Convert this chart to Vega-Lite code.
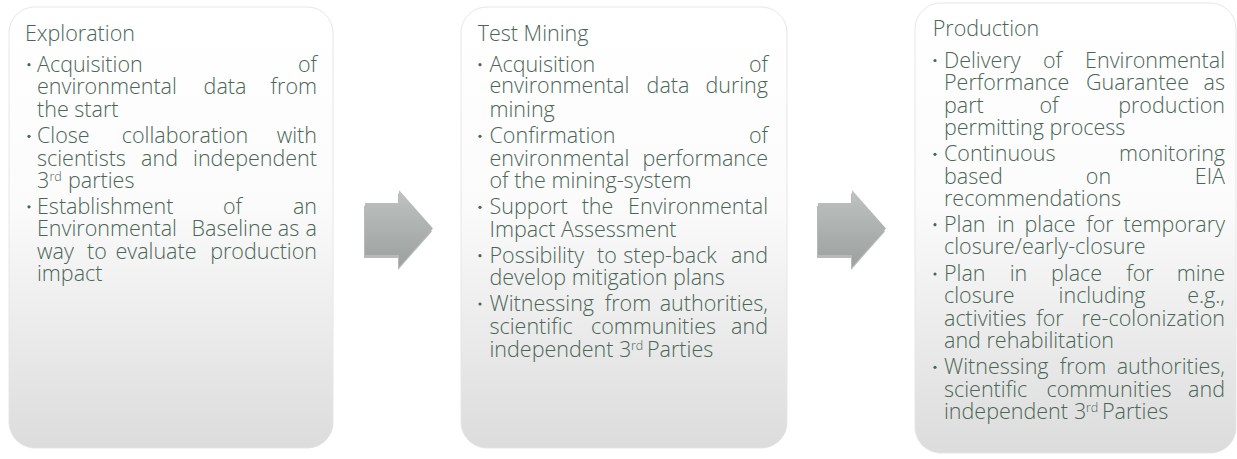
{
  "$schema": "https://vega.github.io/schema/vega-lite/v6.json",
  "width": 1237,
  "height": 459,
  "autosize": {"type": "fit", "contains": "padding"},
  "padding": 0,
  "background": "#ffffff",
  "config": {"view": {"stroke": null}},
  "datasets": {
    "boxes": [
      {"stage": "Exploration", "x0": 9, "x1": 333, "y0": 7, "y1": 448},
      {"stage": "Test Mining", "x0": 461, "x1": 787, "y0": 7, "y1": 448},
      {"stage": "Production", "x0": 915, "x1": 1236, "y0": 3, "y1": 453}
    ],
    "arrows": [
      {"arrow": 1, "ax": 399, "ay": 228.5},
      {"arrow": 2, "ax": 852, "ay": 228.5}
    ],
    "titles": [
      {"t": "Exploration", "x": 25, "y": 40.7},
      {"t": "Test Mining", "x": 477.7, "y": 40.7},
      {"t": "Production", "x": 932.7, "y": 36}
    ],
    "bullets": [
      {"x": 29, "y": 71.7}, {"x": 29, "y": 143.3}, {"x": 29, "y": 213.8},
      {"x": 480, "y": 71.7}, {"x": 480, "y": 143.3}, {"x": 480, "y": 214.3}, {"x": 480, "y": 262.7}, {"x": 480, "y": 311},
      {"x": 935, "y": 67.5}, {"x": 935, "y": 161.3}, {"x": 935, "y": 231.7}, {"x": 935, "y": 281}, {"x": 935, "y": 374.3}
    ],
    "sups": [
      {"t": "rd", "x": 49.5, "y": 180.5},
      {"t": "rd", "x": 631, "y": 350},
      {"t": "rd", "x": 1086, "y": 412.3}
    ],
    "words": [
      {"t": "Acquisition", "a": "l", "x": 37, "y": 71.7},
      {"t": "of", "a": "r", "x": 317, "y": 71.7},
      {"t": "environmental", "a": "l", "x": 37, "y": 94},
      {"t": "data", "a": "c", "x": 225, "y": 94},
      {"t": "from", "a": "r", "x": 317, "y": 94},
      {"t": "the start", "a": "l", "x": 37, "y": 116.7},
      {"t": "Close", "a": "l", "x": 37, "y": 143.3},
      {"t": "collaboration", "a": "c", "x": 185, "y": 143.3},
      {"t": "with", "a": "r", "x": 317, "y": 143.3},
      {"t": "scientists", "a": "l", "x": 37, "y": 165.5},
      {"t": "and", "a": "c", "x": 159.5, "y": 165.5},
      {"t": "independent", "a": "r", "x": 317, "y": 165.5},
      {"t": "3", "a": "l", "x": 37, "y": 187.5},
      {"t": "parties", "a": "l", "x": 68, "y": 187.5},
      {"t": "Establishment", "a": "l", "x": 37, "y": 213.8},
      {"t": "of", "a": "c", "x": 232.5, "y": 213.8},
      {"t": "an", "a": "r", "x": 317, "y": 213.8},
      {"t": "Environmental", "a": "l", "x": 37, "y": 236.3},
      {"t": "Baseline", "a": "c", "x": 232, "y": 236.3},
      {"t": "as", "a": "c", "x": 288.5, "y": 236.3},
      {"t": "a", "a": "r", "x": 317, "y": 236.3},
      {"t": "way", "a": "l", "x": 37, "y": 258.6},
      {"t": "to", "a": "c", "x": 97, "y": 258.6},
      {"t": "evaluate", "a": "c", "x": 156, "y": 258.6},
      {"t": "production", "a": "r", "x": 317, "y": 258.6},
      {"t": "impact", "a": "l", "x": 37, "y": 280.7},

      {"t": "Acquisition", "a": "l", "x": 489.5, "y": 71.7},
      {"t": "of", "a": "r", "x": 768, "y": 71.7},
      {"t": "environmental", "a": "l", "x": 489.5, "y": 93.3},
      {"t": "data", "a": "c", "x": 668, "y": 93.3},
      {"t": "during", "a": "r", "x": 768, "y": 93.3},
      {"t": "mining", "a": "l", "x": 489.5, "y": 116.7},
      {"t": "Confirmation", "a": "l", "x": 489.5, "y": 143.3},
      {"t": "of", "a": "r", "x": 768, "y": 143.3},
      {"t": "environmental", "a": "l", "x": 489.5, "y": 165.7},
      {"t": "performance", "a": "r", "x": 768, "y": 165.7},
      {"t": "of the mining-system", "a": "l", "x": 489.5, "y": 187.7},
      {"t": "Support", "a": "l", "x": 489.5, "y": 214.3},
      {"t": "the", "a": "c", "x": 597.5, "y": 214.3},
      {"t": "Environmental", "a": "r", "x": 768, "y": 214.3},
      {"t": "Impact Assessment", "a": "l", "x": 489.5, "y": 236.7},
      {"t": "Possibility", "a": "l", "x": 489.5, "y": 262.7},
      {"t": "to", "a": "c", "x": 607, "y": 262.7},
      {"t": "step-back", "a": "c", "x": 670, "y": 262.7},
      {"t": "and", "a": "r", "x": 768, "y": 262.7},
      {"t": "develop mitigation plans", "a": "l", "x": 489.5, "y": 285},
      {"t": "Witnessing", "a": "l", "x": 489.5, "y": 311},
      {"t": "from", "a": "c", "x": 628, "y": 311},
      {"t": "authorities,", "a": "r", "x": 768, "y": 311},
      {"t": "scientific", "a": "l", "x": 489.5, "y": 334},
      {"t": "communities", "a": "c", "x": 653.5, "y": 334},
      {"t": "and", "a": "r", "x": 768, "y": 334},
      {"t": "independent", "a": "l", "x": 489.5, "y": 357},
      {"t": "3", "a": "l", "x": 619, "y": 357},
      {"t": "Parties", "a": "l", "x": 647, "y": 357},

      {"t": "Delivery", "a": "l", "x": 944, "y": 67.5},
      {"t": "of", "a": "c", "x": 1052.5, "y": 67.5},
      {"t": "Environmental", "a": "r", "x": 1225, "y": 67.5},
      {"t": "Performance", "a": "l", "x": 944, "y": 90},
      {"t": "Guarantee", "a": "c", "x": 1137.5, "y": 90},
      {"t": "as", "a": "r", "x": 1225, "y": 90},
      {"t": "part", "a": "l", "x": 944, "y": 112.7},
      {"t": "of", "a": "c", "x": 1049, "y": 112.7},
      {"t": "production", "a": "r", "x": 1225, "y": 112.7},
      {"t": "permitting process", "a": "l", "x": 944, "y": 135},
      {"t": "Continuous", "a": "l", "x": 944, "y": 161.3},
      {"t": "monitoring", "a": "r", "x": 1225, "y": 161.3},
      {"t": "based", "a": "l", "x": 944, "y": 183.5},
      {"t": "on", "a": "c", "x": 1098.5, "y": 183.5},
      {"t": "EIA", "a": "r", "x": 1225, "y": 183.5},
      {"t": "recommendations", "a": "l", "x": 944, "y": 205.5},
      {"t": "Plan", "a": "l", "x": 944, "y": 231.7},
      {"t": "in", "a": "c", "x": 1006, "y": 231.7},
      {"t": "place", "a": "c", "x": 1050, "y": 231.7},
      {"t": "for", "a": "c", "x": 1100, "y": 231.7},
      {"t": "temporary", "a": "r", "x": 1225, "y": 231.7},
      {"t": "closure/early-closure", "a": "l", "x": 944, "y": 254.3},
      {"t": "Plan", "a": "l", "x": 944, "y": 281},
      {"t": "in", "a": "c", "x": 1018.5, "y": 281},
      {"t": "place", "a": "c", "x": 1076.5, "y": 281},
      {"t": "for", "a": "c", "x": 1140, "y": 281},
      {"t": "mine", "a": "r", "x": 1225, "y": 281},
      {"t": "closure", "a": "l", "x": 944, "y": 303.3},
      {"t": "including", "a": "c", "x": 1102, "y": 303.3},
      {"t": "e.g.,", "a": "r", "x": 1225, "y": 303.3},
      {"t": "activities", "a": "l", "x": 944, "y": 325.5},
      {"t": "for", "a": "c", "x": 1050, "y": 325.5},
      {"t": "re-colonization", "a": "r", "x": 1225, "y": 325.5},
      {"t": "and rehabilitation", "a": "l", "x": 944, "y": 347.7},
      {"t": "Witnessing", "a": "l", "x": 944, "y": 374.3},
      {"t": "from", "a": "c", "x": 1083, "y": 374.3},
      {"t": "authorities,", "a": "r", "x": 1225, "y": 374.3},
      {"t": "scientific", "a": "l", "x": 944, "y": 396.7},
      {"t": "communities", "a": "c", "x": 1109, "y": 396.7},
      {"t": "and", "a": "r", "x": 1225, "y": 396.7},
      {"t": "independent", "a": "l", "x": 944, "y": 419.3},
      {"t": "3", "a": "l", "x": 1074, "y": 419.3},
      {"t": "Parties", "a": "l", "x": 1102, "y": 419.3}
    ]
  },
  "layer": [
    {
      "data": {"name": "boxes"},
      "mark": {"type": "rect", "cornerRadius": 26, "color": "#000000", "opacity": 0.12, "xOffset": 4, "yOffset": 4},
      "encoding": {
        "x": {"field": "x0", "type": "quantitative", "scale": {"domain": [0, 1237], "nice": false, "zero": false}, "axis": null},
        "x2": {"field": "x1"},
        "y": {"field": "y0", "type": "quantitative", "scale": {"domain": [0, 459], "nice": false, "zero": false, "reverse": true}, "axis": null},
        "y2": {"field": "y1"}
      }
    },
    {
      "data": {"name": "boxes"},
      "mark": {"type": "rect", "cornerRadius": 26, "color": "#000000", "opacity": 0.25, "xOffset": 2.5, "yOffset": 2.5},
      "encoding": {
        "x": {"field": "x0", "type": "quantitative", "scale": {"domain": [0, 1237], "nice": false, "zero": false}, "axis": null},
        "x2": {"field": "x1"},
        "y": {"field": "y0", "type": "quantitative", "scale": {"domain": [0, 459], "nice": false, "zero": false, "reverse": true}, "axis": null},
        "y2": {"field": "y1"}
      }
    },
    {
      "data": {"name": "boxes"},
      "mark": {
        "type": "rect",
        "cornerRadius": 26,
        "stroke": "#e6e6e6",
        "strokeWidth": 1,
        "fill": {
          "gradient": "linear", "x1": 0, "y1": 0, "x2": 0, "y2": 1,
          "stops": [
            {"offset": 0, "color": "#ffffff"},
            {"offset": 0.45, "color": "#fbfbfb"},
            {"offset": 1, "color": "#dcdcdc"}
          ]
        }
      },
      "encoding": {
        "x": {"field": "x0", "type": "quantitative", "scale": {"domain": [0, 1237], "nice": false, "zero": false}, "axis": null},
        "x2": {"field": "x1"},
        "y": {"field": "y0", "type": "quantitative", "scale": {"domain": [0, 459], "nice": false, "zero": false, "reverse": true}, "axis": null},
        "y2": {"field": "y1"}
      }
    },
    {
      "data": {"name": "arrows"},
      "mark": {
        "type": "point",
        "shape": "M-1,-0.75 L0,-0.75 L0,-1.13 L1,0 L0,1.13 L0,0.78 L-1,0.78 Z",
        "size": 4624,
        "filled": true,
        "color": "#7e8280",
        "opacity": 0.55,
        "xOffset": -1,
        "yOffset": 3
      },
      "encoding": {
        "x": {"field": "ax", "type": "quantitative", "scale": {"domain": [0, 1237], "nice": false, "zero": false}, "axis": null},
        "y": {"field": "ay", "type": "quantitative", "scale": {"domain": [0, 459], "nice": false, "zero": false, "reverse": true}, "axis": null}
      }
    },
    {
      "data": {"name": "arrows"},
      "mark": {
        "type": "point",
        "shape": "M-1,-0.75 L0,-0.75 L0,-1.13 L1,0 L0,1.13 L0,0.78 L-1,0.78 Z",
        "size": 4624,
        "filled": true,
        "opacity": 1,
        "strokeWidth": 0,
        "fill": {
          "gradient": "linear", "x1": 0, "y1": 0, "x2": 0, "y2": 1,
          "stops": [
            {"offset": 0, "color": "#bec2c0"},
            {"offset": 1, "color": "#9ca09e"}
          ]
        }
      },
      "encoding": {
        "x": {"field": "ax", "type": "quantitative", "scale": {"domain": [0, 1237], "nice": false, "zero": false}, "axis": null},
        "y": {"field": "ay", "type": "quantitative", "scale": {"domain": [0, 459], "nice": false, "zero": false, "reverse": true}, "axis": null}
      }
    },
    {
      "data": {"name": "titles"},
      "mark": {"type": "text", "align": "left", "baseline": "alphabetic", "font": "Open Sans", "fontWeight": 300, "fontSize": 21.5, "color": "#4a6656"},
      "encoding": {
        "x": {"field": "x", "type": "quantitative", "scale": {"domain": [0, 1237], "nice": false, "zero": false}, "axis": null},
        "y": {"field": "y", "type": "quantitative", "scale": {"domain": [0, 459], "nice": false, "zero": false, "reverse": true}, "axis": null},
        "text": {"field": "t"}
      }
    },
    {
      "data": {"name": "words"},
      "transform": [{"filter": "datum.a === 'l'"}],
      "mark": {"type": "text", "align": "left", "baseline": "alphabetic", "font": "Open Sans", "fontWeight": 300, "fontSize": 21.5, "color": "#4a6656"},
      "encoding": {
        "x": {"field": "x", "type": "quantitative", "scale": {"domain": [0, 1237], "nice": false, "zero": false}, "axis": null},
        "y": {"field": "y", "type": "quantitative", "scale": {"domain": [0, 459], "nice": false, "zero": false, "reverse": true}, "axis": null},
        "text": {"field": "t"}
      }
    },
    {
      "data": {"name": "words"},
      "transform": [{"filter": "datum.a === 'c'"}],
      "mark": {"type": "text", "align": "center", "baseline": "alphabetic", "font": "Open Sans", "fontWeight": 300, "fontSize": 21.5, "color": "#4a6656"},
      "encoding": {
        "x": {"field": "x", "type": "quantitative", "scale": {"domain": [0, 1237], "nice": false, "zero": false}, "axis": null},
        "y": {"field": "y", "type": "quantitative", "scale": {"domain": [0, 459], "nice": false, "zero": false, "reverse": true}, "axis": null},
        "text": {"field": "t"}
      }
    },
    {
      "data": {"name": "words"},
      "transform": [{"filter": "datum.a === 'r'"}],
      "mark": {"type": "text", "align": "right", "baseline": "alphabetic", "font": "Open Sans", "fontWeight": 300, "fontSize": 21.5, "color": "#4a6656"},
      "encoding": {
        "x": {"field": "x", "type": "quantitative", "scale": {"domain": [0, 1237], "nice": false, "zero": false}, "axis": null},
        "y": {"field": "y", "type": "quantitative", "scale": {"domain": [0, 459], "nice": false, "zero": false, "reverse": true}, "axis": null},
        "text": {"field": "t"}
      }
    },
    {
      "data": {"name": "sups"},
      "mark": {"type": "text", "align": "left", "baseline": "alphabetic", "font": "Open Sans", "fontWeight": 300, "fontSize": 12.5, "color": "#4a6656"},
      "encoding": {
        "x": {"field": "x", "type": "quantitative", "scale": {"domain": [0, 1237], "nice": false, "zero": false}, "axis": null},
        "y": {"field": "y", "type": "quantitative", "scale": {"domain": [0, 459], "nice": false, "zero": false, "reverse": true}, "axis": null},
        "text": {"field": "t"}
      }
    },
    {
      "data": {"name": "bullets"},
      "mark": {"type": "circle", "size": 10, "opacity": 1, "color": "#4a6656", "yOffset": -7},
      "encoding": {
        "x": {"field": "x", "type": "quantitative", "scale": {"domain": [0, 1237], "nice": false, "zero": false}, "axis": null},
        "y": {"field": "y", "type": "quantitative", "scale": {"domain": [0, 459], "nice": false, "zero": false, "reverse": true}, "axis": null}
      }
    }
  ]
}
